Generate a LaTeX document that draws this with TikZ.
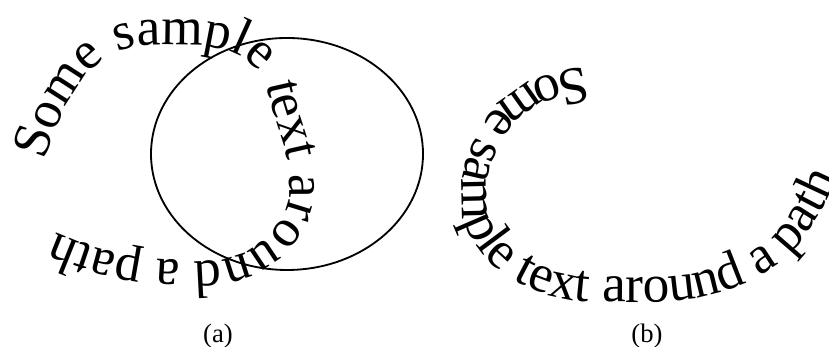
\documentclass[tikz,border=0pt]{standalone}
\usepackage{fontspec}
\setmainfont{Liberation Serif}
\usetikzlibrary{decorations.text}
\begin{document}
\begin{tikzpicture}[x=0.6pt, y=0.6pt,
        letrero/.style={decorate, decoration={text along path, text align=left,
            text={|\fontsize{32}{38}\selectfont|Some sample text around a path}}},
        rotulo/.style={anchor=base, font=\fontsize{16}{19}\selectfont}]
        \useasboundingbox (0,0) rectangle (829,347);
        % (a)
        \draw[line width=1.1pt] (287,193) ellipse [x radius=136, y radius=116];
        \path[letrero] (45,186) to[out=72,in=180] (152,302) to[out=0,in=120] (266,265)
            to[out=-80,in=90] (290,160) to[out=-90,in=0] (202,86) to[out=180,in=-25] (40,122);
        \node[rotulo] (pa) at (218,4) {(a)};
        % (b)
        \path[letrero] (585,280) to[out=190,in=60] (482,220) to[out=240,in=90] (462,150)
            to[out=-90,in=180] (600,45) to[out=0,in=-155] (750,66) to[out=25,in=-120] (868,232);
        \node[rotulo] (pb) at (647,4) {(b)};
    \end{tikzpicture}
\end{document}
